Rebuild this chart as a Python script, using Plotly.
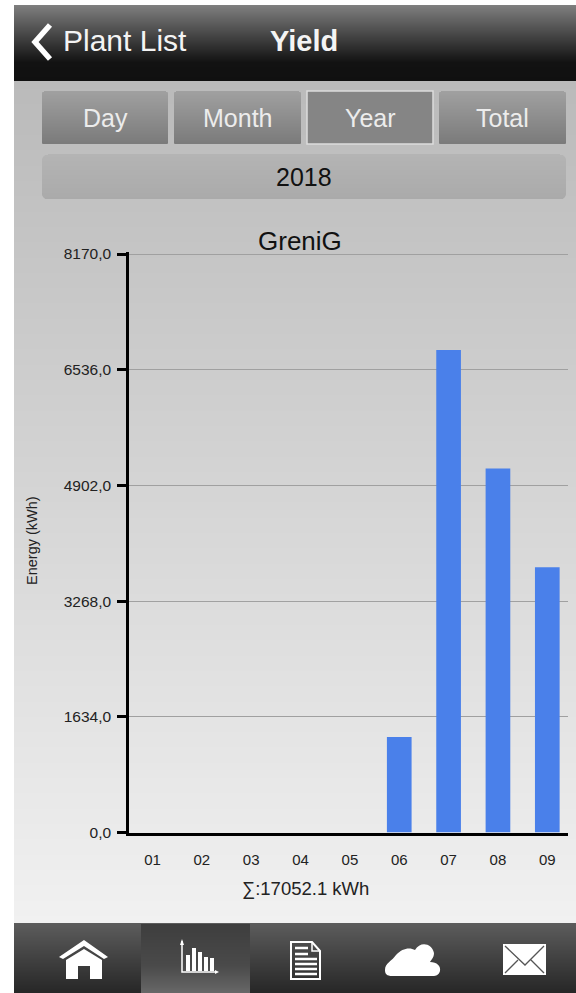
import re
import plotly.graph_objects as go

months = ["01", "02", "03", "04", "05", "06", "07", "08", "09"]
energy = [0, 0, 0, 0, 0, 1350, 6815, 5140, 3747]
y_ticks = [0, 1634, 3268, 4902, 6536, 8170]
y_labels = ["0,0", "1634,0", "3268,0", "4902,0", "6536,0", "8170,0"]
total_label = "∑:17052.1 kWh"
W, H = 576, 993
FONT = "Liberation Sans"
shapes, annos = [], []


def px(x): return x / W
def py(y): return 1 - y / H


def lerp(c1, c2, t):
    return "rgb(%d,%d,%d)" % tuple(round(a + (b - a) * t) for a, b in zip(c1, c2))


def rect(x0, y0, x1, y1, color, line=None, lw=0):
    shapes.append(dict(type="rect", xref="paper", yref="paper", layer="below",
                       x0=px(x0), x1=px(x1), y0=py(y0), y1=py(y1), fillcolor=color,
                       line=dict(width=lw, color=line or color)))


def grad(x0, y0, x1, y1, stops, radius=0):
    y = y0
    while y < y1:
        t = (y - y0) / max(1, y1 - y0)
        for (a, ca), (b, cb) in zip(stops, stops[1:]):
            if a <= t <= b:
                col = lerp(ca, cb, (t - a) / max(b - a, 1e-6))
                break
        d = min(y - y0, y1 - 1 - y)
        inset = max(0.0, radius - (radius**2 - (radius - d)**2) ** 0.5) if d < radius else 0
        # each strip overlaps the next one so that no seam can show
        rect(x0 + inset, y, x1 - inset, min(y + 2, y1), col)
        y += 1


def path(d, fill=None, line=None, lw=0):
    nums = iter(re.findall(r"-?\d+\.?\d*|[A-Za-z]", d))
    out, is_x = [], True
    for tok in nums:
        if tok.isalpha():
            out.append(tok)
        else:
            v = float(tok)
            out.append(f"{px(v):.5f}" if is_x else f"{py(v):.5f}")
            is_x = not is_x
    shapes.append(dict(type="path", xref="paper", yref="paper", layer="above", path=" ".join(out),
                       fillcolor=fill or "rgba(0,0,0,0)",
                       line=dict(width=lw, color=line or "rgba(0,0,0,0)")))


def text(x, y, s, size, color="#111", anchor="center", bold=False, angle=0):
    annos.append(dict(xref="paper", yref="paper", x=px(x), y=py(y), text=f"<b>{s}</b>" if bold else s,
                      showarrow=False, xanchor=anchor, yanchor="middle", textangle=angle,
                      font=dict(family=FONT, size=size, color=color)))


# page areas
grad(14, 5, 576, 81, [(0, (126, 126, 126)), (0.75, (18, 18, 18)), (1, (16, 16, 16))])
grad(14, 81, 576, 923, [(0, (186, 186, 186)), (1, (241, 241, 241))])
grad(14, 923, 576, 993, [(0, (92, 92, 92)), (1, (38, 38, 38))])
grad(141, 924, 250, 993, [(0, (62, 62, 62)), (0.6, (74, 74, 74)), (1, (104, 104, 104))])

# buttons
for x0, x1, s, sel in [(42, 168, "Day", 0), (174, 301, "Month", 0), (307, 433, "Year", 1), (439, 566, "Total", 0)]:
    if sel:
        rect(x0, 91, x1, 144, "#858585", "#dcdcdc", 1.5)
    else:
        grad(x0, 91, x1, 144, [(0, (160, 160, 160)), (1, (122, 122, 122))], 2)
    text((x0 + x1) / 2, 118, s, 25, "#ececec")
grad(42, 154, 566, 199, [(0, (180, 180, 180)), (1, (170, 170, 170))], 6)
text(304, 177, "2018", 25, "#111")

# header
path("M 50 25 L 35 42 L 50 59", line="white", lw=5.5)
text(61, 41, "Plant List", 30, "#f4f4f4", "left")
text(304, 41, "Yield", 29, "#f4f4f4", bold=True)

# chart text
text(300, 241, "GreniG", 26, "#111")
text(32, 541, "Energy (kWh)", 14.5, "#222", angle=-90)
text(305, 888, total_label, 18.5, "#222")

# nav icons
path("M 59 957 L 84 940 L 108 957 L 104 959 L 84 946 L 63 959 Z", fill="white")
path("M 66 960 L 84 949 L 102 960 L 102 979 L 90 979 L 90 966 L 78 966 L 78 979 L 66 979 Z", fill="white")
path("M 182 941 L 182 972 L 216 972", line="white", lw=1.5)
path("M 180 945 L 182 939 L 184 945 Z M 215 970 L 219 972 L 215 974 Z", fill="white")
for x0, top in [(186, 955), (192, 948), (198, 952), (204, 957), (210, 958)]:
    path(f"M {x0} 971 L {x0} {top} L {x0+4} {top} L {x0+4} 971 Z", fill="white")
path("M 291 942 L 312 942 L 320 951 L 320 979 L 291 979 Z", line="white", lw=2)
path("M 312 942 L 312 951 L 320 951", line="white", lw=1.5)
for yy, x1 in [(948, 308), (954, 308), (959, 317), (964, 317), (969, 317), (974, 317)]:
    path(f"M 295 {yy} L {x1} {yy}", line="white", lw=2.5)
path("M 385 970 C 385 963 392 961 396 955 C 402 948 410 947 415 950 C 420 941 432 943 434 953 "
     "C 434 958 431 960 430 962 C 437 962 441 966 440 971 C 439 975 436 976 433 976 L 392 976 "
     "C 387 976 385 974 385 970 Z", fill="white")
path("M 503 944 L 546 944 L 546 975 L 503 975 Z", fill="white")
path("M 505 946 L 525 965 L 544 946 M 505 973 L 518 960 M 544 973 L 531 960", line="#555", lw=1.3)

fig = go.Figure(go.Bar(x=months, y=energy, width=0.5, marker=dict(color="#4a80ea", line=dict(width=0))))
LEFT, RIGHT, TOP, BOT = 129, 568, 252, 832.6
TICK_TOP = 254
STEP, FIRST = 49.35, 152.5
fig.update_layout(
    template="none",
    width=W, height=H, margin=dict(l=0, r=0, t=0, b=0, pad=0, autoexpand=False),
    paper_bgcolor="white", plot_bgcolor="rgba(0,0,0,0)",
    showlegend=False, shapes=shapes, annotations=annos, font=dict(family=FONT, color="#222"),
    xaxis=dict(domain=[px(LEFT), px(RIGHT)], type="category", categoryorder="array", categoryarray=months,
               automargin=False,
               range=[(LEFT - FIRST) / STEP, (RIGHT - FIRST) / STEP], showgrid=False, ticks="",
               ticklabelstandoff=12, tickfont=dict(size=15, family=FONT, color="#222"),
               showline=True, linecolor="black", linewidth=2.5, zeroline=False),
    yaxis=dict(domain=[py(BOT), py(TOP)], range=[0, y_ticks[-1] * (BOT - TOP) / (BOT - TICK_TOP)],
               tickmode="array", tickvals=y_ticks, ticktext=y_labels,
               automargin=False,
               showgrid=True, gridcolor="#a0a0a0", gridwidth=1, zeroline=False, ticks="outside", ticklen=9,
               tickwidth=2.5, tickcolor="black", showline=True, linecolor="black", linewidth=2.5,
               ticklabelstandoff=3, tickfont=dict(size=15.5, family=FONT, color="#222")),
)
fig.write_html("out.html", config=dict(displayModeBar=False),
               post_script="document.body.style.margin='0';")
